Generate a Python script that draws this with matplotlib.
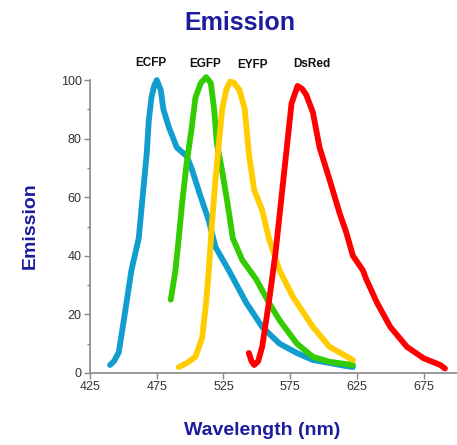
import matplotlib
matplotlib.use("Agg")
import matplotlib.pyplot as plt
from matplotlib.ticker import MultipleLocator

plt.rcParams['font.family'] = ['Liberation Sans', 'DejaVu Sans']

# emission spectra (wavelength nm, relative emission)
ecfp_wl = [440, 443, 446.5, 450, 453, 456, 461.5, 465, 467.5, 469, 471, 473, 475, 478, 480,
           484, 490, 497.5, 501, 507, 514, 519, 529, 542, 554, 567, 580, 592, 604.5, 615, 622]
ecfp_em = [2.7, 4, 7, 17, 26, 35, 46, 63, 75, 86, 94, 98, 100, 96.6, 90,
           84, 77, 74, 70, 61.4, 52, 43, 35, 24, 15.7, 10, 6.8, 4.4, 3.4, 2.5, 2]

egfp_wl = [485.5, 489, 491.5, 494, 497.5, 501, 504, 508, 512, 515.5, 518, 520, 524, 528, 532,
           539, 549.5, 559, 567, 580, 592, 604.5, 622]
egfp_em = [25, 35, 46, 58, 72, 83, 94, 99, 101, 99, 90, 78.5, 69, 58, 46,
           38.6, 32, 24, 18, 10, 5.5, 3.8, 2.7]

eyfp_wl = [491.5, 498, 504, 509, 512, 514, 516.5, 519, 522, 524, 527, 530, 533, 537, 541,
           544, 548, 554, 559, 567, 577, 592, 604.5, 622]
eyfp_em = [2, 3.5, 5.5, 12, 24, 35, 52, 66, 80.5, 90, 96.6, 99.5, 99, 96.6, 90,
           75, 62.5, 55.6, 46, 35, 26, 15.7, 8.9, 4.4]

dsred_wl = [544, 546, 548, 551, 554, 559, 564, 568, 572, 576, 580.5, 584, 587, 592, 597,
            604.5, 612, 617, 622, 629.5, 632, 640, 650, 662.5, 675, 687.5, 691]
dsred_em = [6.8, 4, 2.7, 4, 8.9, 24, 41, 58, 75, 92, 98, 97, 95, 89, 77,
            66, 54.6, 48, 40, 35, 32, 24, 15.7, 8.9, 5, 2.7, 1.5]

labels = ['ECFP', 'EGFP', 'EYFP', 'DsRed']
label_x = [470.5, 511, 546.5, 591]
label_y = [106, 105.5, 105, 105.5]
colors = ['#119ecf', '#33cc00', '#ffcc00', '#ff0000']

title_blue = '#1c1c9c'

fig = plt.figure(figsize=(4.57, 4.45), dpi=100)
ax = fig.add_axes([0.197, 0.162, 0.803, 0.658])

series = [(ecfp_wl, ecfp_em), (egfp_wl, egfp_em), (eyfp_wl, eyfp_em), (dsred_wl, dsred_em)]
for (wl, em), c in zip(series, colors):
    ax.plot(wl, em, color=c, lw=4.2, solid_capstyle='round', solid_joinstyle='round',
            clip_on=False)

for name, x, y in zip(labels, label_x, label_y):
    ax.text(x, y, name, ha='center', va='center', fontsize=8.5, fontweight='bold',
            color='#111111', clip_on=False)

ax.set_xlim(425, 700)
ax.set_ylim(0, 100)
ax.set_xticks([425, 475, 525, 575, 625, 675])
ax.set_yticks([0, 20, 40, 60, 80, 100])
ax.yaxis.set_minor_locator(MultipleLocator(10))

for side in ['top', 'right']:
    ax.spines[side].set_visible(False)
for side in ['left', 'bottom']:
    ax.spines[side].set_color('#888888')
    ax.spines[side].set_linewidth(1.2)
ax.tick_params(axis='both', which='major', direction='out', length=4, width=1,
               color='#888888', labelsize=9, labelcolor='#333333', pad=2)
ax.tick_params(axis='y', which='minor', direction='out', length=2, width=1, color='#888888')

fig.text(0.525, 0.948, 'Emission', ha='center', va='center', fontsize=18,
         fontweight='bold', color=title_blue)
fig.text(0.066, 0.494, 'Emission', ha='center', va='center', rotation=90,
         fontsize=14, fontweight='bold', color=title_blue)
fig.text(0.573, 0.033, 'Wavelength (nm)', ha='center', va='center', fontsize=14,
         fontweight='bold', color=title_blue)

fig.savefig('out.png', dpi=100)
